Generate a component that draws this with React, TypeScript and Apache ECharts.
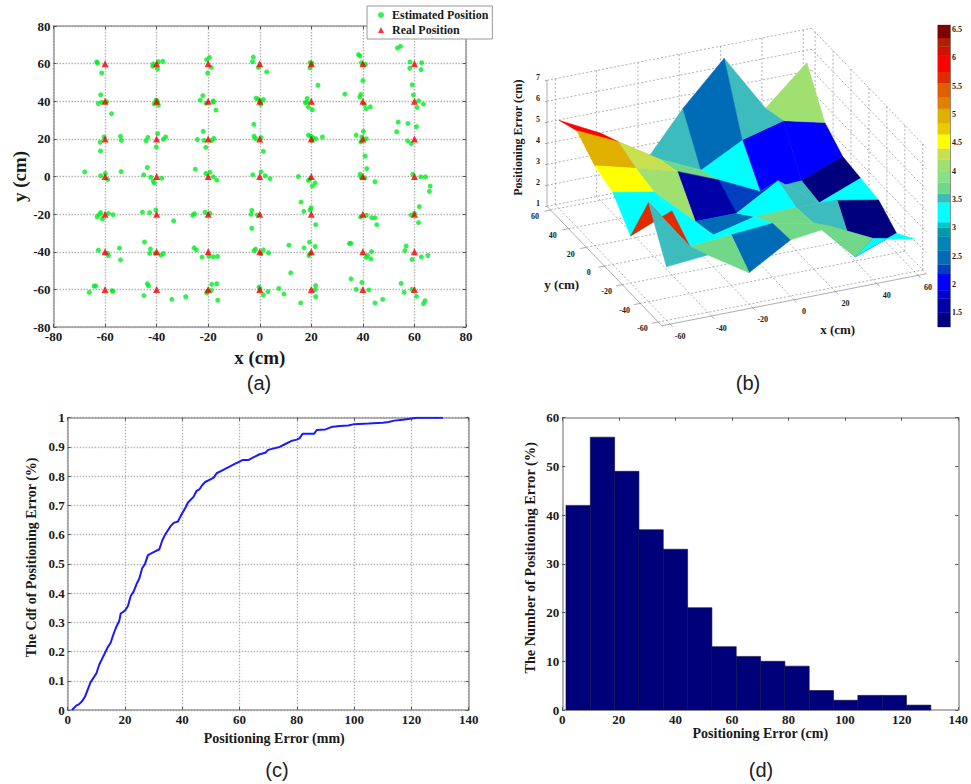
import React, { useEffect, useRef } from "react";
import * as echarts from "echarts";

const estimatedPositions: number[][] = [
  [-63.2,60.9],[-63,60.3],[-61.3,55],[-41.5,58.6],[-41.3,59.8],[-39.3,61],[-37.6,61.2],[-39.7,57.2],[-20.6,62.1],[-19.5,63.3],[-18.8,58],[-20.2,55],
  [-2.5,63.5],[-2.8,61],[-0.5,58],[2.7,55.6],[19.5,60.5],[20.2,60.2],[19.5,57.7],[38.3,64.8],[38.9,64],[39.4,60.5],[41,59.6],[53.4,68.3],[54.6,69.2],[58.3,60.9],[58.2,57.5],[62.8,60.5],[62.6,56.8],
  [-61.7,43.4],[-62.6,38.8],[-61.3,39.5],[-59.4,39.7],[-57.5,33.4],[-41,38.6],[-40.2,40.6],[-39.7,39.5],[-39.3,38],[-40,40.4],[-23.1,40.6],[-22.1,43],[-20.8,39],[-18,39.5],[-18,40.2],[-17,35.3],
  [-1.4,41.6],[-0.5,41],[0.4,40],[0.4,38.3],[1.4,41],[18.4,41.5],[17.7,39.2],[18.9,36.9],[20.4,35.5],[18.2,39.5],[22.6,48.5],[33,43.8],[39.2,43.6],[38.8,42.2],[40,51],[40.6,38.3],[41.3,36],[42.9,37],[59.1,48.7],[59.6,43.4],[61.6,40.2],[61,36.7],[63.5,38.5],
  [-60.4,21],[-61.9,18.2],[-61.8,13.6],[-54,21.4],[-53.7,19.2],[-44.1,19],[-43.4,20.8],[-37.4,19.8],[-36.5,21],[-39.6,22.8],[-40.1,15.7],[-24.2,19.6],[-21.9,24],[-21.6,19.2],[-20.9,15.5],[-18.6,19.2],[-17.8,20.3],
  [-2.3,27.7],[-2.2,21.4],[-1.6,20.1],[0.5,20.6],[1.4,13.4],[18.9,22],[19.8,21.5],[20.6,20.6],[21.7,20.1],[20.2,19.2],[24.3,21],[37.4,22],[39.6,21],[40.2,24],[39.2,18.4],[41.3,20.1],[40.9,10.9],[53.1,23.8],[53.7,28.9],[57.5,28.2],[57.4,18.9],[58.8,17.5],[60.8,26.5],
  [-67.9,2.5],[-61.7,0.4],[-59.9,1.6],[-59,-1.6],[-53.8,2.6],[-45,0.9],[-43.6,4.8],[-42.3,-0.4],[-41.3,-2.6],[-40.9,-3.5],[-38,-0.9],[-25,3.9],[-20.9,1.6],[-19.3,2.3],[-18,-0.2],[-16.7,-1.9],
  [-2.7,0.9],[0.5,2.5],[2.1,0.4],[4,-1.1],[15,0],[18.9,-2.1],[19.5,-1.4],[21.5,-3.4],[20.4,-5.1],[38.9,1.2],[39.2,-0.2],[40.7,-0.7],[44.7,-2.8],[41.5,4.2],[59.4,1.2],[62.5,-0.2],[64.3,-0.2],[66.1,-5.1],[65.8,-7.9],
  [-61.7,-19.2],[-62.2,-20.1],[-63.1,-21.4],[-61,-22.6],[-58.7,-19.6],[-56.9,-20.3],[-45.5,-18.9],[-42.7,-19.2],[-40.3,-17.8],[-33.4,-23.6],[-26,-20.6],[-25.3,-19.8],[-21.2,-19],[-19.3,-19.6],
  [-3.1,-18],[-3.4,-20.1],[-3.1,-27.5],[-0.9,-20.5],[16,-13.6],[17.1,-18.5],[19.9,-16.6],[19.5,-17.8],[21.7,-25.6],[39.1,-21.5],[41.3,-20.6],[43.4,-21.9],[44.7,-22],[45.4,-25.6],[58.7,-20.5],[60,-19.6],[61.9,-16],[61.6,-24.5],
  [-62.6,-39.2],[-59,-40.8],[-58.7,-42],[-54.4,-38.1],[-54,-44.3],[-44.7,-34.8],[-42.4,-38.6],[-42.7,-40.9],[-38.3,-41.8],[-37.4,-40.9],[-40.5,-40.8],[-25.5,-37.9],[-24.6,-39],[-22.4,-42.9],[-19.7,-42.5],[-18,-42.7],[-16.4,-42.5],
  [-2.2,-39.4],[-1.6,-38.6],[0.5,-41.1],[1.4,-39],[3.4,-40.6],[11.3,-36.5],[17.2,-37.9],[19.3,-34.9],[21.5,-37.2],[19.1,-42],[19.5,-41.1],[34.8,-35.6],[35.3,-35.5],[43.4,-39.9],[41.8,-42],[41.3,-43],[43.1,-43.8],[56.3,-39.4],[56.8,-36.9],[59.1,-44.1],[62.7,-42.7],[65.2,-42],
  [-66.1,-61.6],[-64.3,-58.2],[-63.6,-58.2],[-57.3,-60.7],[-57,-61],[-44.9,-63.3],[-43.6,-57],[-43.1,-58.1],[-34.1,-65.3],[-28.7,-63.9],[-20.6,-61.9],[-20.3,-61],[-18.6,-57.3],[-16.7,-57],[-18.8,-60.5],[-16.3,-65.8],
  [-0.3,-58.8],[0.1,-59.8],[1.4,-63],[3.2,-61.2],[7.4,-59.5],[9.4,-62.5],[12,-51.2],[15.9,-67.2],[21.7,-58],[21.5,-60.2],[21.7,-63.9],[35.4,-54.4],[37.4,-60],[39.6,-56.3],[42.3,-60.3],[44.7,-67.2],[47.7,-65.3],[54.8,-56.8],[56,-61.6],[59,-60],[60.8,-63.7],[64.1,-66],[63.5,-67.6],
];
const gridTicks = [-60, -40, -20, 0, 20, 40, 60];
const realPositions: number[][] = gridTicks.flatMap((x) => gridTicks.map((y) => [x, y]));

// surface heights: one row per x (-60..60), one column per y (60..-60)
const surfaceZ: number[][] = [
  [5.2, 5.59, 4.81, 4.44, 3.24, 5.73, 3.55],
  [4.2, 4.68, 4.3, 4.06, 4.06, 3.24, 3.73],
  [2.2, 3.46, 3.76, 2.27, 2.52, 3.41, 2.5],
  [4.6, 2.56, 2.97, 2.27, 3.0, 3.57, 3.67],
  [6.6, 3.6, 2.03, 3.43, 3.06, 3.19, 3.92],
  [3.83, 4.13, 2.16, 2.0, 3.0, 1.2, 2.97],
  [5.62, 3.65, 2.92, 2.78, 2.63, 1.94, 2.55],
];
// colour level of each surface cell
const cellLevels: number[][] = [
  [5.9, 4.9, 4.5, 3.25, 5.65, 3.5],
  [4.9, 4.3, 4.1, 3.25, 3.25, 3.75],
  [3.5, 3.7, 1.7, 2.6, 3.3, 2.6],
  [2.6, 3.3, 2.3, 3.2, 3.7, 3.7],
  [3.5, 2.0, 3.5, 3.5, 3.5, 3.8],
  [4.1, 2.0, 1.3, 3.3, 1.3, 3.3],
];
const bandTops = [1.5, 1.75, 1.9, 2.2, 2.35, 2.6, 2.85, 3.0, 3.1, 3.45, 3.6, 3.8, 4.0, 4.2, 4.4, 4.65, 4.85, 5.1, 5.3, 5.55, 5.75, 6.05, 6.2, 6.35, 6.58];
const bandColors = ["#00007f", "#0000a8", "#0000d0", "#0000ff", "#0040c0", "#006cb8", "#0082bb", "#0099aa", "#00c8c8", "#00ffff", "#3cbcbc", "#70d888", "#88e088", "#a0e070", "#c8e050", "#ffff00", "#e8cc00", "#e0b000", "#e08000", "#e06000", "#e02a00", "#ff0000", "#d01000", "#b02000", "#800000"];
const barMin = 1.25;
const barMax = 6.58;
const barTicks = [1.5, 2, 2.5, 3, 3.5, 4, 4.5, 5, 5.5, 6, 6.5];
const zTicks = [1, 2, 3, 4, 5, 6, 7];

const cdfPoints: number[][] = [
  [1.5,0],[2,0.005],[3,0.015],[4,0.02],[5,0.03],[6,0.045],[7,0.07],[8,0.095],[9,0.11],[10,0.125],[11,0.155],[12,0.175],[13,0.195],[14,0.215],[15,0.23],[16,0.26],[17,0.285],[18,0.305],[18.5,0.33],[20,0.34],[21,0.355],[22,0.39],[23,0.405],[24,0.43],[25,0.45],[26,0.485],[27,0.5],[28,0.53],[30,0.54],[32,0.55],[33,0.58],[34,0.6],[35,0.615],[36,0.63],[37,0.64],[38.5,0.645],[39.5,0.665],[41,0.69],[42,0.71],[44,0.73],[45,0.75],[46,0.755],[47,0.77],[48,0.78],[50,0.79],[51,0.795],[52,0.81],[54,0.82],[56,0.83],[58,0.84],[60,0.85],[61,0.855],[63,0.855],[65,0.865],[67,0.875],[69,0.88],[70,0.89],[72,0.895],[74,0.9],[76,0.91],[78,0.92],[80,0.925],[81,0.93],[82,0.945],[86,0.945],[87,0.958],[90,0.96],[92,0.968],[95,0.972],[98,0.973],[100,0.978],[105,0.98],[110,0.983],[112,0.985],[114,0.99],[117,0.993],[120,0.997],[122,1],[131,1],
];
const histEdges = [1.3, 9.9, 18.5, 27.1, 35.7, 44.3, 52.9, 61.5, 70.1, 78.7, 87.3, 95.9, 104.5, 113.1, 121.7, 130.3];
const histCounts = [42, 56, 49, 37, 33, 21, 13, 11, 10, 9, 4, 2, 3, 3, 1];

const SERIF = '"Liberation Serif", serif';
const INK = "#1a1a1a";
const FRAME = "#999";

const levelColor = (v: number) => {
  const k = bandTops.findIndex((t) => v <= t);
  return bandColors[k < 0 ? bandColors.length - 1 : k];
};
// view of the 3D box, in the units of the hidden screen-space axes
const project = (x: number, y: number, z: number) => [
  740 + 6.2 * x - 2.69 * y,
  720 - 1.22 * x - 2.8 * y - 63 * (z - 1),
];
const nearness = (x: number, y: number, z: number) =>
  (-0.325 * x) / 64 + (-0.75 * y) / 64 + (0.845 * (z - 4)) / 3;

const cellOrder: number[][] = [];
for (let i = 0; i < 6; i++) for (let j = 0; j < 6; j++) cellOrder.push([i, j]);
const cellDepth = ([i, j]: number[]) => {
  const z = (surfaceZ[i][j] + surfaceZ[i + 1][j] + surfaceZ[i][j + 1] + surfaceZ[i + 1][j + 1]) / 4;
  return nearness(gridTicks[i] + 10, gridTicks[6 - j] - 10, z);
};
cellOrder.sort((a, b) => cellDepth(a) - cellDepth(b));

// box lines: [x1, y1, z1, x2, y2, z2]
const E = 64;
const dashedLines: number[][] = [];
zTicks.forEach((z) => {
  dashedLines.push([-E, E, z, E, E, z], [E, E, z, E, -E, z]);
});
gridTicks.forEach((t) => {
  dashedLines.push([t, E, 1, t, E, 7], [E, t, 1, E, t, 7], [t, -E, 1, t, E, 1], [-E, t, 1, E, t, 1]);
});
const solidLines: number[][] = [
  [-E, E, 1, -E, -E, 1],
  [-E, -E, 1, E, -E, 1],
  [-E, E, 1, -E, E, 7],
];
gridTicks.forEach((t) => {
  solidLines.push([t, -E, 1, t, -E - 3, 1], [-E, t, 1, -E - 3, t, 1]);
});
zTicks.forEach((z) => solidLines.push([-E, E, z, -E - 1, E, z]));

type Label3D = { t: string; sx: number; sy: number; size: number; rot?: number };
const labels3D: Label3D[] = [
  ...gridTicks.map((t) => {
    const p = project(t, -E, 1);
    return { t: String(t), sx: p[0] + 30, sy: p[1] + 36, size: 8 };
  }),
  ...gridTicks.map((t) => {
    const p = project(-E, t, 1);
    return { t: String(t), sx: p[0] - 47, sy: p[1] + 20, size: 8 };
  }),
  ...zTicks.map((z) => {
    const p = project(-E, E, z);
    return { t: String(z), sx: p[0] - 27, sy: p[1] - 8, size: 8 };
  }),
  { t: "x (cm)", sx: 1043, sy: 988, size: 13 },
  { t: "y (cm)", sx: 215, sy: 852, size: 13 },
  { t: "Positioning Error (cm)", sx: 85, sy: 413, size: 12, rot: Math.PI / 2 },
];

const fmt = (v: number) => String(Math.round(v * 10) / 10);

function valueAxis(gridIndex: number, min: number, max: number, interval: number, position: string, extra: any = {}) {
  const main = position === "bottom" || position === "left";
  return {
    type: "value",
    gridIndex,
    min,
    max,
    interval,
    position,
    axisLine: { show: true, onZero: false, lineStyle: { color: FRAME, width: 1.5 } },
    axisTick: { show: true, inside: true, length: 3, lineStyle: { color: "#555" } },
    axisLabel: {
      show: main,
      color: INK,
      fontFamily: SERIF,
      fontWeight: "bold",
      fontSize: 13,
      margin: 3,
      hideOverlap: false,
      showMinLabel: true,
      showMaxLabel: true,
      formatter: fmt,
    },
    splitLine: { show: false },
    ...extra,
  };
}
const dotted = { show: true, lineStyle: { color: "#b4b4b4", type: [1.5, 1.5], width: 1.4 } };
const axisName = (name: string, nameGap: number, fontSize = 14, shift = 0) => ({
  name,
  nameLocation: "middle",
  nameGap,
  nameTextStyle: { color: INK, fontFamily: SERIF, fontWeight: "bold", fontSize, padding: shift ? [0, 0, 0, shift] : 0 },
});
const hidden = (gridIndex: number, min: number, max: number, extra: any = {}) => ({
  type: "value",
  gridIndex,
  min,
  max,
  show: false,
  ...extra,
});

const captions = [
  { t: "(a)", x: 259, y: 383 },
  { t: "(b)", x: 748, y: 383 },
  { t: "(c)", x: 277, y: 770 },
  { t: "(d)", x: 761, y: 770 },
];

function buildOption() {
  return {
    animation: false,
    backgroundColor: "#fff",
    tooltip: { show: false },
    legend: {
      data: ["Estimated Position", "Real Position"],
      left: 367,
      top: 6,
      orient: "vertical",
      selectedMode: false,
      itemWidth: 6,
      itemHeight: 6,
      itemGap: 3,
      padding: [3, 4, 3, 11],
      borderColor: "#999",
      borderWidth: 1,
      backgroundColor: "#fff",
      textStyle: { color: INK, fontFamily: SERIF, fontWeight: "bold", fontSize: 12, lineHeight: 12, padding: [0, 0, 0, 3] },
    },
    grid: [
      { left: 53.5, top: 26, width: 412.5, height: 301 },
      { left: 67.7, top: 417.7, width: 401, height: 292.3 },
      { left: 562.3, top: 417.7, width: 399.7, height: 292.3 },
      { left: 490, top: 0, width: 481, height: 400 },
      { left: 937.7, top: 25, width: 12.3, height: 302 },
    ],
    xAxis: [
      valueAxis(0, -80, 80, 20, "bottom", { ...axisName("x (cm)", 21, 19), splitLine: dotted }),
      valueAxis(0, -80, 80, 20, "top"),
      valueAxis(1, 0, 140, 20, "bottom", { ...axisName("Positioning Error (mm)", 21, 14, 12), splitLine: dotted }),
      valueAxis(1, 0, 140, 20, "top"),
      valueAxis(2, 0, 140, 20, "bottom", axisName("Positioning Error (cm)", 14)),
      valueAxis(2, 0, 140, 20, "top"),
      hidden(3, 0, 1443),
      hidden(4, 0, 1),
    ],
    yAxis: [
      valueAxis(0, -80, 80, 20, "left", { ...axisName("y (cm)", 25, 19), splitLine: dotted }),
      valueAxis(0, -80, 80, 20, "right"),
      valueAxis(1, 0, 1, 0.1, "left", { ...axisName("The Cdf of Positioning Error (%)", 29, 14, 13), splitLine: dotted }),
      valueAxis(1, 0, 1, 0.1, "right"),
      valueAxis(2, 0, 60, 10, "left", axisName("The Number of Positioning Error (%)", 25, 14.3, 12)),
      valueAxis(2, 0, 60, 10, "right"),
      hidden(3, 0, 1200, { inverse: true }),
      {
        type: "value",
        gridIndex: 4,
        min: barMin,
        max: barMax,
        position: "right",
        axisLine: { show: true, onZero: false, lineStyle: { color: "#888" } },
        axisTick: { show: true, inside: true, length: 2, lineStyle: { color: "#222" }, customValues: barTicks },
        axisLabel: { color: INK, fontFamily: SERIF, fontWeight: "bold", fontSize: 8, margin: 2, customValues: barTicks, formatter: fmt },
        splitLine: { show: false },
      },
    ],
    series: [
      {
        name: "Estimated Position",
        type: "scatter",
        xAxisIndex: 0,
        yAxisIndex: 0,
        symbol: "circle",
        symbolSize: 5,
        itemStyle: { color: "#00ee22" },
        data: estimatedPositions,
        z: 3,
      },
      {
        name: "Real Position",
        type: "scatter",
        xAxisIndex: 0,
        yAxisIndex: 0,
        symbol: "triangle",
        symbolSize: 7,
        itemStyle: { color: "#f40000" },
        data: realPositions,
        z: 4,
      },
      {
        type: "line",
        xAxisIndex: 2,
        yAxisIndex: 2,
        data: cdfPoints,
        showSymbol: false,
        lineStyle: { color: "#1a1aff", width: 2 },
        z: 3,
      },
      {
        type: "custom",
        xAxisIndex: 4,
        yAxisIndex: 4,
        data: histCounts.map((c, i) => [histEdges[i], histEdges[i + 1], c]),
        renderItem: (_: any, api: any) => {
          const a = api.coord([api.value(0), api.value(2)]);
          const b = api.coord([api.value(1), 0]);
          return {
            type: "rect",
            shape: { x: a[0], y: a[1], width: b[0] - a[0], height: b[1] - a[1] },
            style: { fill: "#00007a", stroke: "#10103a", lineWidth: 0.6 },
          };
        },
      },
      {
        type: "custom",
        xAxisIndex: 6,
        yAxisIndex: 6,
        data: dashedLines,
        silent: true,
        renderItem: (params: any, api: any) => {
          const l = dashedLines[params.dataIndex];
          const a = api.coord(project(l[0], l[1], l[2]));
          const b = api.coord(project(l[3], l[4], l[5]));
          return {
            type: "line",
            shape: { x1: a[0], y1: a[1], x2: b[0], y2: b[1] },
            style: { stroke: "#9a9a9a", lineWidth: 0.8, lineDash: [2, 2] },
          };
        },
        z: 1,
      },
      {
        type: "custom",
        xAxisIndex: 6,
        yAxisIndex: 6,
        data: solidLines,
        silent: true,
        renderItem: (params: any, api: any) => {
          const l = solidLines[params.dataIndex];
          const a = api.coord(project(l[0], l[1], l[2]));
          const b = api.coord(project(l[3], l[4], l[5]));
          return {
            type: "line",
            shape: { x1: a[0], y1: a[1], x2: b[0], y2: b[1] },
            style: { stroke: "#999", lineWidth: 0.8 },
          };
        },
        z: 1,
      },
      {
        type: "custom",
        xAxisIndex: 6,
        yAxisIndex: 6,
        data: cellOrder,
        silent: true,
        renderItem: (params: any, api: any) => {
          const [i, j] = cellOrder[params.dataIndex];
          const corners = [
            [i, j],
            [i + 1, j],
            [i + 1, j + 1],
            [i, j + 1],
          ];
          const points = corners.map(([a, b]) => api.coord(project(gridTicks[a], gridTicks[6 - b], surfaceZ[a][b])));
          const fill = levelColor(cellLevels[i][j]);
          return { type: "polygon", shape: { points }, style: { fill, stroke: fill, lineWidth: 0.5 } };
        },
        z: 2,
      },
      {
        type: "custom",
        xAxisIndex: 6,
        yAxisIndex: 6,
        data: labels3D.map((_, k) => k),
        silent: true,
        clip: false,
        renderItem: (params: any, api: any) => {
          const l = labels3D[params.dataIndex];
          const p = api.coord([l.sx, l.sy]);
          return {
            type: "text",
            x: p[0],
            y: p[1],
            rotation: l.rot || 0,
            style: {
              text: l.t,
              fill: INK,
              font: `bold ${l.size}px ${SERIF}`,
              align: "center",
              verticalAlign: "middle",
            },
          };
        },
        z: 3,
      },
      {
        type: "custom",
        xAxisIndex: 7,
        yAxisIndex: 7,
        data: bandTops.map((t, k) => [k ? bandTops[k - 1] : barMin, t]),
        silent: true,
        renderItem: (params: any, api: any) => {
          const a = api.coord([0, api.value(1)]);
          const b = api.coord([1, api.value(0)]);
          const fill = bandColors[params.dataIndex];
          return {
            type: "rect",
            shape: { x: a[0], y: a[1], width: b[0] - a[0], height: b[1] - a[1] },
            style: { fill, stroke: fill, lineWidth: 0.3 },
          };
        },
      },
    ],
    graphic: captions.map((c) => ({
      type: "text",
      x: c.x,
      y: c.y,
      style: {
        text: c.t,
        fill: "#222",
        font: '20px "Liberation Sans", Arial, sans-serif',
        align: "center",
        verticalAlign: "middle",
      },
    })),
  };
}

export default function App() {
  const ref = useRef<HTMLDivElement>(null);
  useEffect(() => {
    document.body.style.margin = "0";
    const chart = echarts.init(ref.current!, undefined, { renderer: "svg" });
    chart.setOption(buildOption() as any);
    return () => chart.dispose();
  }, []);
  return <div ref={ref} style={{ width: 971, height: 784 }} />;
}
